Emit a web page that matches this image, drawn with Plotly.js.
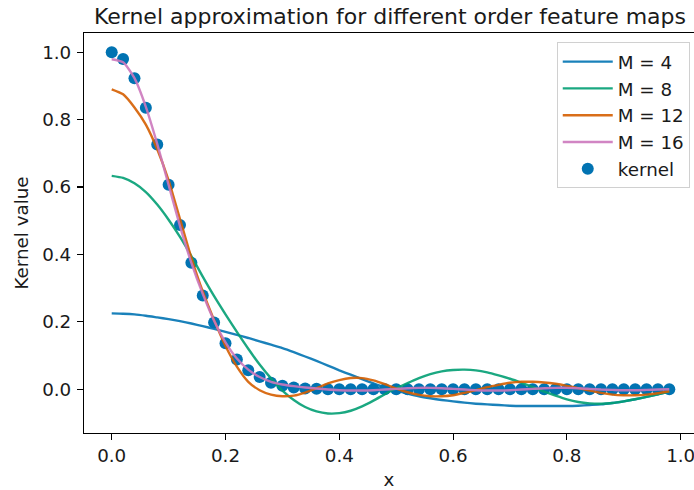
<!DOCTYPE html>
<html>
<head>
<meta charset="utf-8">
<script src="https://cdn.plot.ly/plotly-3.0.1.min.js"></script>
<style>
  html, body { margin: 0; padding: 0; background: #fff; }
  #chart { width: 694px; height: 490px; }
</style>
</head>
<body>
<div id="chart"></div>
<script>
// Sample positions (50 points, step 0.02)
const xs = [0.00, 0.02, 0.04, 0.06, 0.08, 0.10, 0.12, 0.14, 0.16, 0.18,
            0.20, 0.22, 0.24, 0.26, 0.28, 0.30, 0.32, 0.34, 0.36, 0.38,
            0.40, 0.42, 0.44, 0.46, 0.48, 0.50, 0.52, 0.54, 0.56, 0.58,
            0.60, 0.62, 0.64, 0.66, 0.68, 0.70, 0.72, 0.74, 0.76, 0.78,
            0.80, 0.82, 0.84, 0.86, 0.88, 0.90, 0.92, 0.94, 0.96, 0.98];

// Exact kernel values
const kernel = [1.000, 0.980, 0.923, 0.835, 0.726, 0.607, 0.487, 0.375, 0.278, 0.198,
                0.136, 0.088, 0.056, 0.036, 0.019, 0.010, 0.005, 0.002, 0.001, 0.000,
                0.000, 0.000, 0.000, 0.000, 0.000, 0.000, 0.000, 0.000, 0.000, 0.000,
                0.000, 0.000, 0.000, 0.000, 0.000, 0.000, 0.000, 0.000, 0.000, 0.000,
                0.000, 0.000, 0.000, 0.000, 0.000, 0.000, 0.000, 0.000, 0.000, 0.000];

// Feature-map approximations of order M
const approxM4 = [0.225, 0.224, 0.222, 0.218, 0.213, 0.208, 0.202, 0.195, 0.187, 0.179,
                  0.170, 0.161, 0.152, 0.142, 0.132, 0.122, 0.110, 0.097, 0.084, 0.070,
                  0.056, 0.043, 0.030, 0.017, 0.005, -0.004, -0.013, -0.021, -0.027, -0.032,
                  -0.036, -0.040, -0.043, -0.045, -0.047, -0.049, -0.050, -0.050, -0.050, -0.050,
                  -0.050, -0.049, -0.047, -0.045, -0.041, -0.036, -0.030, -0.023, -0.015, -0.008];

const approxM8 = [0.633, 0.627, 0.611, 0.585, 0.548, 0.503, 0.452, 0.395, 0.334, 0.276,
                  0.222, 0.170, 0.120, 0.073, 0.032, -0.004, -0.032, -0.053, -0.066, -0.072,
                  -0.071, -0.064, -0.051, -0.034, -0.015, 0.003, 0.018, 0.033, 0.045, 0.053,
                  0.057, 0.058, 0.056, 0.050, 0.041, 0.031, 0.019, 0.006, -0.007, -0.019,
                  -0.030, -0.038, -0.042, -0.043, -0.041, -0.036, -0.030, -0.023, -0.015, -0.007];

const approxM12 = [0.890, 0.875, 0.836, 0.785, 0.712, 0.620, 0.505, 0.390, 0.290, 0.205,
                   0.128, 0.067, 0.022, -0.003, -0.016, -0.021, -0.019, -0.010, 0.003, 0.017,
                   0.027, 0.033, 0.033, 0.026, 0.015, 0.002, -0.009, -0.017, -0.021, -0.021,
                   -0.018, -0.011, -0.003, 0.006, 0.013, 0.019, 0.022, 0.022, 0.020, 0.016,
                   0.010, 0.003, -0.004, -0.011, -0.016, -0.018, -0.018, -0.016, -0.012, -0.006];

const approxM16 = [0.979, 0.970, 0.923, 0.838, 0.728, 0.606, 0.484, 0.375, 0.283, 0.203,
                   0.139, 0.091, 0.058, 0.036, 0.022, 0.014, 0.009, 0.005, 0.002, -0.001,
                   -0.003, -0.004, -0.004, -0.003, -0.001, 0.001, 0.003, 0.004, 0.004, 0.003,
                   0.001, -0.001, -0.003, -0.004, -0.004, -0.003, -0.001, 0.001, 0.003, 0.004,
                   0.004, 0.003, 0.001, -0.001, -0.002, -0.003, -0.003, -0.002, -0.001, 0.000];

const seriesNames = ["M = 4", "M = 8", "M = 12", "M = 16"];
const seriesValues = [approxM4, approxM8, approxM12, approxM16];
const seriesColors = ["#0173b2", "#029e73", "#d55e00", "#cc78bc"];

const tickVals = [0.0, 0.2, 0.4, 0.6, 0.8, 1.0];
const tickText = ["0.0", "0.2", "0.4", "0.6", "0.8", "1.0"];

const font = "DejaVu Sans, sans-serif";
const textColor = "#1a1a1a";
const labelSize = 18.3;

// Kernel dots go first so the approximation lines sit on top of them
const traces = [{
  type: "scatter", mode: "markers", name: "kernel",
  x: xs, y: kernel,
  marker: { color: "#0173b2", size: 12, line: { width: 0 } },
  legendrank: 5, legendgroup: "k"
}];
seriesNames.forEach((name, i) => {
  traces.push({
    type: "scatter", mode: "lines", name: name,
    x: xs, y: seriesValues[i],
    line: { color: seriesColors[i], width: 2.4, shape: "spline", smoothing: 0.6 },
    opacity: 0.9,
    legendrank: i + 1, legendgroup: "g" + i
  });
});

const axisCommon = {
  showgrid: false, zeroline: false,
  showline: true, linecolor: "#000", linewidth: 1.1,
  ticks: "outside", ticklen: 6, tickwidth: 1.1, tickcolor: "#000",
  tickvals: tickVals, ticktext: tickText,
  ticklabeloverflow: "allow",
  tickfont: { family: font, size: labelSize, color: textColor }
};

const layout = {
  width: 694, height: 490,
  margin: { l: 84, r: 0, t: 33, b: 57 },
  paper_bgcolor: "#fff", plot_bgcolor: "#fff",
  font: { family: font, color: textColor },
  title: {
    text: "Kernel approximation for different order feature maps",
    font: { family: font, size: 22, color: textColor },
    xref: "paper", x: 0.5016, xanchor: "center",
    yref: "container", y: 0.967, yanchor: "middle"
  },
  xaxis: Object.assign({}, axisCommon, {
    range: [-0.0487, 1.0234], mirror: true,
    title: { text: "x", font: { family: font, size: labelSize, color: textColor }, standoff: 8 }
  }),
  yaxis: Object.assign({}, axisCommon, {
    range: [-0.130, 1.057], mirror: false, ticklabelstandoff: 2,
    title: { text: "Kernel value", font: { family: font, size: labelSize, color: textColor }, standoff: 8 }
  }),
  showlegend: true,
  legend: {
    x: 0.775, xanchor: "left", y: 0.977, yanchor: "top",
    bgcolor: "rgba(255,255,255,0.8)", bordercolor: "#d0d0d0", borderwidth: 1,
    font: { family: font, size: labelSize, color: textColor },
    traceorder: "grouped", tracegroupgap: 0, itemwidth: 50
  }
};

Plotly.newPlot("chart", traces, layout, { displayModeBar: false, staticPlot: true });
</script>
</body>
</html>
